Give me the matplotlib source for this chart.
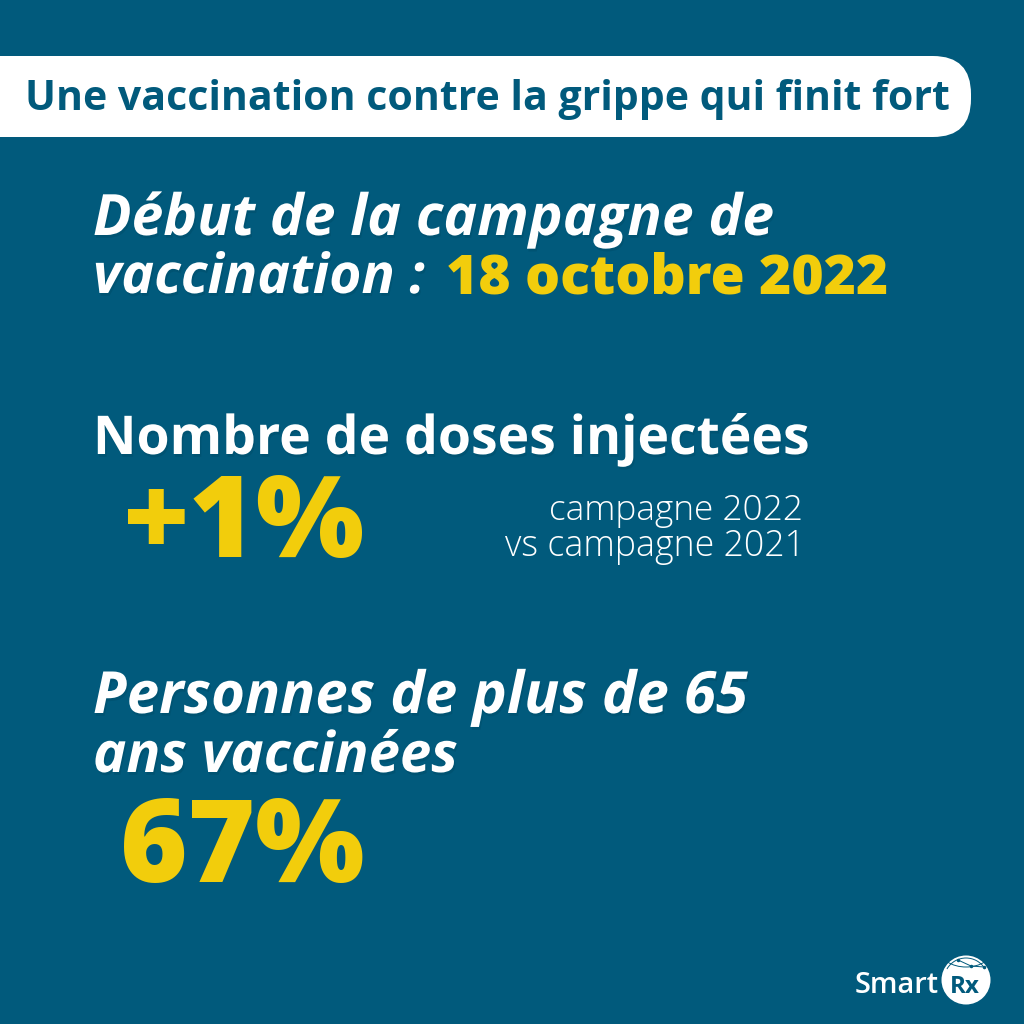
import matplotlib
matplotlib.use("Agg")
import matplotlib.pyplot as plt
import matplotlib.patheffects as pe
from matplotlib.patches import FancyBboxPatch, Circle, Arc

BG = "#015a7c"
YELLOW = "#f2cd0c"
WHITE = "#ffffff"
FONT = "Open Sans"

TITLE = "Une vaccination contre la grippe qui finit fort"
HEAD_1 = ["Début de la campagne de", "vaccination :"]
DATE = "18 octobre 2022"
HEAD_2 = "Nombre de doses injectées"
VALUE_2 = "+1%"
NOTE_2 = ["campagne 2022", "vs campagne 2021"]
HEAD_3 = ["Personnes de plus de 65", "ans vaccinées"]
VALUE_3 = "67%"

fig = plt.figure(figsize=(10.24, 10.24), dpi=100, facecolor=BG)
ax = fig.add_axes([0, 0, 1, 1])
ax.set_xlim(0, 1024)
ax.set_ylim(1024, 0)
ax.axis("off")

shadow = [pe.withSimplePatchShadow(offset=(1, -2), shadow_rgbFace="#00374d", alpha=0.2)]


def fit(x0, x1, y, s, color=WHITE, weight="bold", style="normal", effects=None):
    """Texte posé sur sa ligne de base, taille ajustée pour aller de x0 a x1."""
    t = ax.text(x0, y, s, fontsize=30, fontweight=weight, style=style, color=color,
                family=FONT, ha="left", va="baseline", path_effects=effects)
    w = t.get_window_extent(fig.canvas.get_renderer()).width
    t.set_fontsize(30 * (x1 - x0) / w)
    return t


# bandeau du titre
ax.add_patch(FancyBboxPatch((-60, 56), 1031, 81, boxstyle="round,pad=0,rounding_size=38",
                            facecolor=WHITE, edgecolor="none"))
fit(25, 948, 110, TITLE, color=BG)

fit(93, 774, 235, HEAD_1[0], style="italic", effects=shadow)
fit(93, 425, 293, HEAD_1[1], style="italic", effects=shadow)
fit(446, 889, 293, DATE, color=YELLOW, weight="heavy")

fit(93, 810, 454, HEAD_2, effects=shadow)
fit(124, 364, 557, VALUE_2, color=YELLOW, weight="heavy")
fit(549, 804, 520, NOTE_2[0], weight="light")
fit(505, 804, 556, NOTE_2[1], weight="light")

fit(93, 748, 713, HEAD_3[0], style="italic", effects=shadow)
fit(93, 458, 772, HEAD_3[1], style="italic", effects=shadow)
fit(120, 364, 882, VALUE_3, color=YELLOW, weight="heavy")

# logo SmartRx
fit(855, 939, 993, "Smart", weight="semibold")
ax.add_patch(Circle((966, 980), 24.5, facecolor=WHITE, edgecolor="none"))
fit(950, 980, 993, "Rx", color=BG, weight="bold")
ax.add_patch(Arc((966, 950), 52, 34, theta1=0, theta2=180, color=BG, linewidth=0.7))
ax.add_patch(Arc((966, 980), 44, 44, theta1=-150, theta2=-30, color=BG, linewidth=0.7))
ax.plot([958, 971, 984], [960, 966, 967], color=BG, linewidth=0.7, marker="o", markersize=1.5)

fig.savefig("out.png", dpi=100, facecolor=BG)
